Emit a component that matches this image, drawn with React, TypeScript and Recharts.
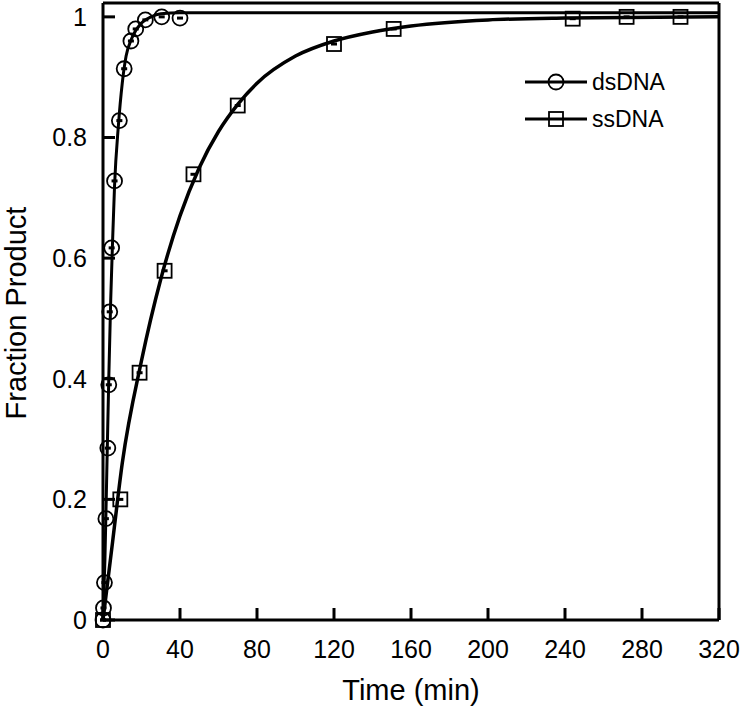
import React from "react";
import {
  ComposedChart,
  Line,
  Scatter,
  XAxis,
  YAxis,
  Legend,
} from "recharts";

// measured points
const dsTime = [0, 0.25, 0.75, 1.5, 2.5, 3, 3.5, 4.5, 6, 8.5, 11, 14.5, 17, 22, 30.5, 40];
const dsFraction = [0, 0.02, 0.062, 0.168, 0.285, 0.39, 0.511, 0.617, 0.728, 0.828, 0.914, 0.96, 0.98, 0.995, 1.0, 0.998];

const ssTime = [0, 9, 19, 32, 47, 70, 120, 151, 244, 272, 300];
const ssFraction = [0, 0.2, 0.41, 0.579, 0.739, 0.853, 0.955, 0.98, 0.997, 1.0, 1.0];

// fitted curves
const dsFitTime = [0, 1, 2, 3, 4, 5, 6, 8, 10, 12, 15, 20, 25, 30, 40, 320];
const dsFitFraction = [0, 0.1, 0.25, 0.4, 0.53, 0.63, 0.72, 0.82, 0.89, 0.935, 0.965, 0.99, 1.0, 1.005, 1.007, 1.007];

const ssFitTime = [0, 5, 10, 20, 30, 40, 50, 60, 70, 80, 100, 120, 140, 160, 200, 240, 320];
const ssFitFraction = [0, 0.13, 0.26, 0.43, 0.565, 0.67, 0.75, 0.81, 0.855, 0.89, 0.935, 0.96, 0.975, 0.985, 0.995, 0.998, 1.0];

const xTicks = [0, 40, 80, 120, 160, 200, 240, 280, 320];
const yTicks = [0, 0.2, 0.4, 0.6, 0.8, 1];

const legendItems = [
  { name: "dsDNA", marker: "circle" },
  { name: "ssDNA", marker: "square" },
];

const zip = (t: number[], y: number[]) => t.map((v, i) => ({ t: v, y: y[i] }));

const dsPoints = zip(dsTime, dsFraction);
const ssPoints = zip(ssTime, ssFraction);
const dsFit = zip(dsFitTime, dsFitFraction);
const ssFit = zip(ssFitTime, ssFitFraction);

const FONT = "'Liberation Sans', Arial, sans-serif";
const TICK_FONT = 25;
const Y_MARGIN = 16;
const X_MARGIN = 29;

const CircleMark = (props: any) => {
  const { cx, cy } = props;
  return (
    <g>
      <rect x={cx - 3} y={cy - 1.5} width={6} height={3} fill="#000" />
      <circle cx={cx} cy={cy} r={7.5} fill="none" stroke="#000" strokeWidth={1.8} />
    </g>
  );
};

const SquareMark = (props: any) => {
  const { cx, cy } = props;
  return (
    <g>
      <rect x={cx - 3} y={cy - 1.5} width={6} height={3} fill="#000" />
      <rect x={cx - 7} y={cy - 7} width={14} height={14} fill="none" stroke="#000" strokeWidth={1.8} />
    </g>
  );
};

const YTick = (props: any) => {
  const { x, y, payload } = props;
  const ax = x + Y_MARGIN;
  return (
    <g>
      <line x1={ax} x2={ax + 12} y1={y} y2={y} stroke="#000" strokeWidth={3} />
      <text x={x} y={y} textAnchor="end" dominantBaseline="central" fontSize={TICK_FONT} fontFamily={FONT} fill="#000">
        {String(payload.value)}
      </text>
    </g>
  );
};

const XTick = (props: any) => {
  const { x, y, payload } = props;
  const ay = y - X_MARGIN;
  return (
    <g>
      <line x1={x} x2={x} y1={ay} y2={ay - 12} stroke="#000" strokeWidth={3} />
      <text x={x} y={y} textAnchor="middle" dominantBaseline="central" fontSize={TICK_FONT} fontFamily={FONT} fill="#000">
        {String(payload.value)}
      </text>
    </g>
  );
};

const LegendBox = () => (
  <svg width={160} height={80}>
    {legendItems.map((item, i) => {
      const y = 14 + i * 37;
      return (
        <g key={item.name}>
          <line x1={5} x2={67} y1={y} y2={y} stroke="#000" strokeWidth={3} />
          {item.marker === "circle" ? (
            <circle cx={36} cy={y} r={7.5} fill="none" stroke="#000" strokeWidth={1.8} />
          ) : (
            <rect x={29} y={y - 7} width={14} height={14} fill="none" stroke="#000" strokeWidth={1.8} />
          )}
          <text x={72} y={y} dominantBaseline="central" fontSize={23} fontFamily={FONT} fill="#000">
            {item.name}
          </text>
        </g>
      );
    })}
  </svg>
);

export default function App() {
  return (
    <div style={{ position: "absolute", left: 0, top: 0, background: "#fff" }}>
      <ComposedChart
        width={742}
        height={709}
        margin={{ top: 2, right: 22, bottom: 0, left: 0 }}
      >
        <XAxis
          dataKey="t"
          type="number"
          domain={[0, 320]}
          ticks={xTicks}
          height={89}
          tickSize={0}
          tickMargin={X_MARGIN}
          tickLine={false}
          tick={<XTick />}
          axisLine={{ stroke: "#000", strokeWidth: 3 }}
          interval={0}
          label={() => (
            <text x={411} y={700} textAnchor="middle" fontSize={29} fontFamily={FONT} fill="#000">
              Time (min)
            </text>
          )}
        />
        <XAxis
          xAxisId="top"
          orientation="top"
          dataKey="t"
          type="number"
          domain={[0, 320]}
          height={1}
          tick={false}
          tickLine={false}
          axisLine={{ stroke: "#000", strokeWidth: 3 }}
        />
        <YAxis
          dataKey="y"
          type="number"
          domain={[0, 1.023]}
          ticks={yTicks}
          width={103}
          tickSize={0}
          tickMargin={Y_MARGIN}
          tickLine={false}
          tick={<YTick />}
          axisLine={{ stroke: "#000", strokeWidth: 3 }}
          interval={0}
          label={() => (
            <text
              transform="translate(26, 313) rotate(-90)"
              textAnchor="middle"
              fontSize={29}
              fontFamily={FONT}
              fill="#000"
            >
              Fraction Product
            </text>
          )}
        />
        <YAxis
          yAxisId="right"
          orientation="right"
          type="number"
          domain={[0, 1.023]}
          width={1}
          tick={false}
          tickLine={false}
          axisLine={{ stroke: "#000", strokeWidth: 3 }}
        />
        <Legend
          layout="vertical"
          align="center"
          verticalAlign="middle"
          wrapperStyle={{ left: 520, top: 68, width: 160 }}
          content={() => <LegendBox />}
        />
        <Line
          data={dsFit}
          dataKey="y"
          type="monotone"
          stroke="#000"
          strokeWidth={3}
          dot={false}
          activeDot={false}
          legendType="none"
          isAnimationActive={false}
        />
        <Line
          data={ssFit}
          dataKey="y"
          type="monotone"
          stroke="#000"
          strokeWidth={3.5}
          dot={false}
          activeDot={false}
          legendType="none"
          isAnimationActive={false}
        />
        <Scatter name="dsDNA" data={dsPoints} dataKey="y" shape={CircleMark} isAnimationActive={false} />
        <Scatter name="ssDNA" data={ssPoints} dataKey="y" shape={SquareMark} isAnimationActive={false} />
      </ComposedChart>
    </div>
  );
}
